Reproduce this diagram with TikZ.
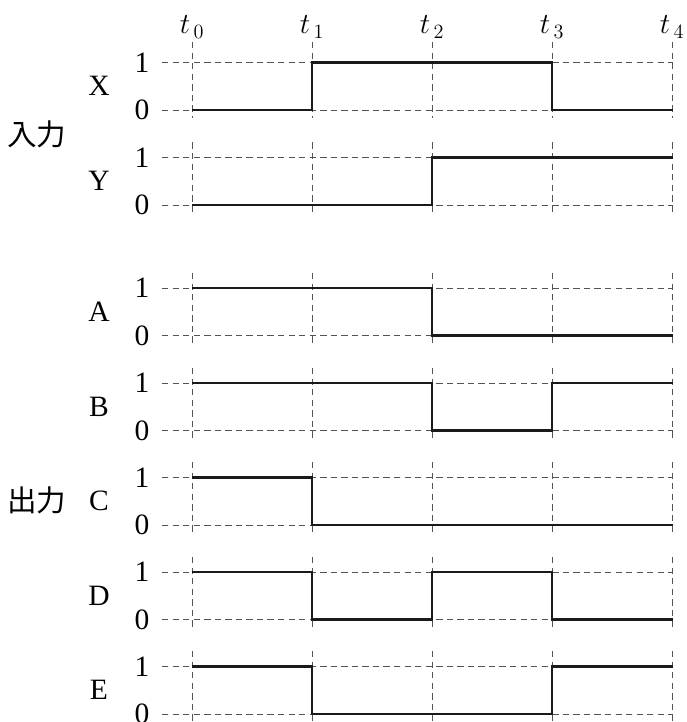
\documentclass[tikz,border=0pt]{standalone}
\usepackage{fontspec}
\setmainfont{Liberation Serif}
\newfontfamily\jpfont{Noto Sans CJK JP}
\usepackage{tikz}
\usetikzlibrary{positioning,calc}
\definecolor{GridGray}{HTML}{555555}
\definecolor{Wave}{HTML}{1A1A1A}

\begin{document}
\begin{tikzpicture}[
    x=0.025cm,y=-0.025cm,
    grid/.style={draw=GridGray,line width=0.5pt,dash pattern=on 4.5pt off 3pt},
    signal/.style={draw=Wave,line width=2pt,line join=miter},
    lvl/.style={font=\fontsize{21}{24}\selectfont,inner sep=0pt},
    sig/.style={font=\fontsize{21}{24}\selectfont,inner sep=0pt},
    grp/.style={font=\jpfont\fontsize{21}{24}\selectfont,inner sep=0pt},
    tick/.style={font=\fontsize{21}{24}\selectfont,inner sep=0pt}
]
\useasboundingbox (0,0) rectangle (686,722);

% time marks
\foreach \i in {0,...,4}
  \node[tick] (t\i) at (192+120*\i,27) {$t_{\,\i}$};

% rows: name / top level (1)
\foreach \nm/\yy/\ytop/\ybot in {X/62.5/42/118, Y/157.5/142.5/212, A/288/273/343, B/383/368/438, C/477.5/462/532, D/572/557/627, E/666.5/651/722} {
  \draw[grid] (162,\yy) -- (673,\yy);
  \draw[grid] (162,\yy+47.5) -- (673,\yy+47.5);
  \foreach \i in {0,...,4}
    \draw[grid] (192+120*\i,\ytop) -- (192+120*\i,\ybot);
  \node[lvl] (one\nm) at (142,\yy) {1};
  \node[lvl] (zero\nm) at (142,\yy+47.5) {0};
  \node[sig] (name\nm) at (99,\yy+23.75) {\nm};
}

\node[grp] (inp) at (37,134) {入力};
\node[grp] (outp) at (37,500) {出力};

% waveforms
\draw[signal] (192,110) -| (312,62.5) -| (552,110) -- (673,110);
\draw[signal] (192,205) -| (432,157.5) -- (673,157.5);
\draw[signal] (192,288) -| (432,335.5) -- (673,335.5);
\draw[signal] (192,383) -| (432,430.5) -| (552,383) -- (673,383);
\draw[signal] (192,477.5) -| (312,525) -- (673,525);
\draw[signal] (192,572) -| (312,619.5) -| (432,572) -| (552,619.5) -- (673,619.5);
\draw[signal] (192,666.5) -| (312,714) -| (552,666.5) -- (673,666.5);
\end{tikzpicture}
\end{document}
